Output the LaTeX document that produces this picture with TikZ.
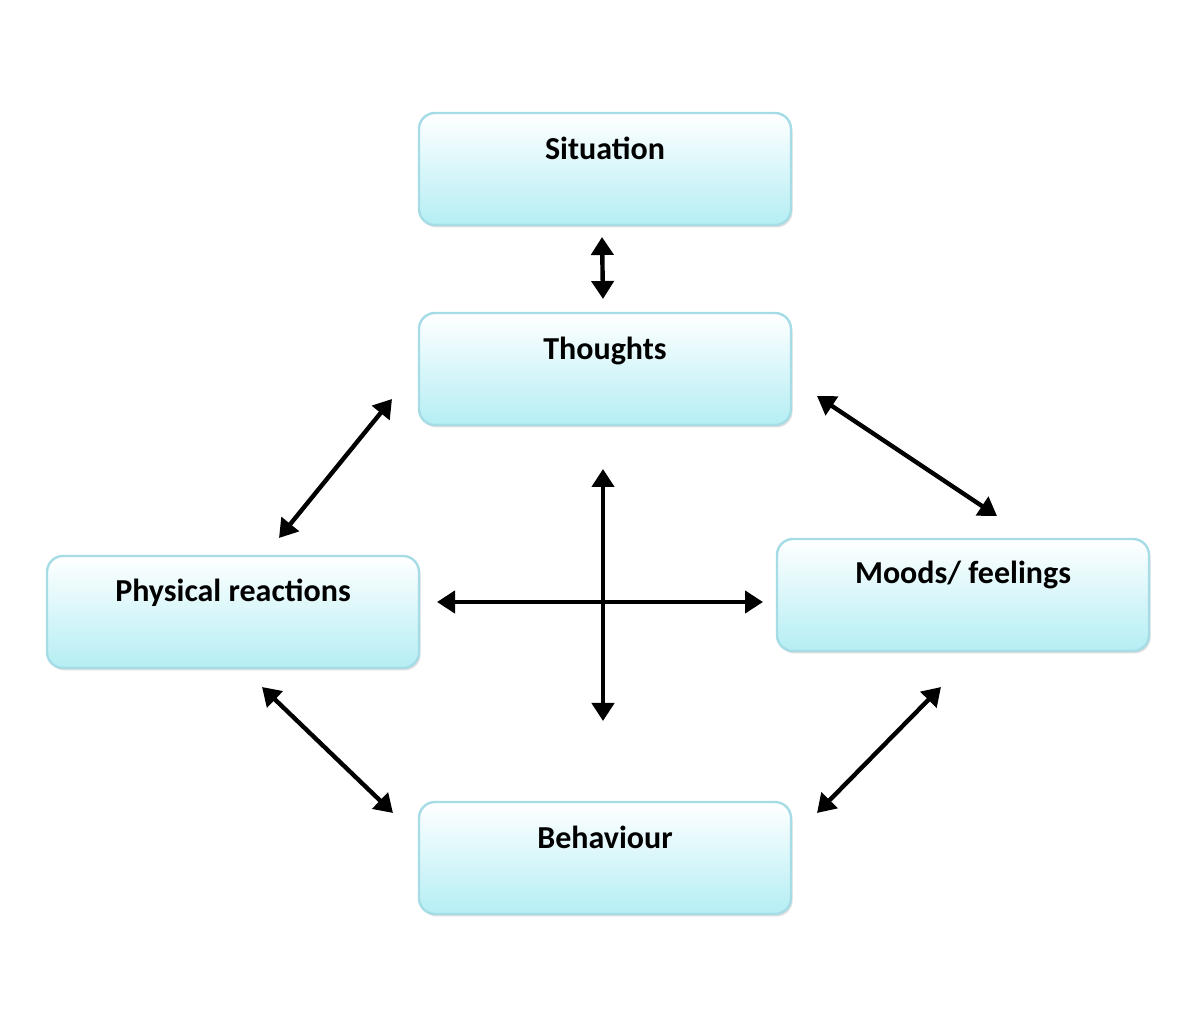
\documentclass[tikz,border=0pt]{standalone}
\usepackage{fontspec}
\setmainfont{Carlito}
\usetikzlibrary{arrows.meta,shadows}
\definecolor{boxtop}{HTML}{FFFFFF}
\definecolor{boxbot}{HTML}{B4EEF4}
\definecolor{boxline}{HTML}{A6DCE6}
\begin{document}
\begin{tikzpicture}[x=0.5pt,y=-0.5pt,
  box/.style={draw=boxline,line width=1.2pt,rounded corners=8pt,top color=boxtop,bottom color=boxbot,
    minimum width=186pt,minimum height=56pt,
    drop shadow={shadow xshift=0.8pt,shadow yshift=-1.2pt,fill=black!25}},
  lbl/.style={font=\bfseries\fontsize{16}{18}\selectfont,anchor=base},
  arr/.style={{Triangle[length=9pt,width=11pt]}-{Triangle[length=9pt,width=11pt]},line width=2.2pt,black}]
\useasboundingbox (0,0) rectangle (1200,1020);
\node[box] (sit) at (605,169) {};
\node[box] (tho) at (605,369) {};
\node[box] (phy) at (233,612) {};
\node[box] (moo) at (963,595) {};
\node[box] (beh) at (605,858) {};
\node[lbl] at (605,160) {Situation};
\node[lbl] at (605,360) {Thoughts};
\node[lbl] at (233,602) {Physical reactions};
\node[lbl] at (963,584) {Moods/ feelings};
\node[lbl] at (605,849) {Behaviour};
\coordinate (a1) at (602,237); \coordinate (a2) at (603,299);
\coordinate (b1) at (392,399); \coordinate (b2) at (279,538);
\coordinate (c1) at (817,396); \coordinate (c2) at (997,516);
\coordinate (d1) at (262,687); \coordinate (d2) at (393,813);
\coordinate (e1) at (941,687); \coordinate (e2) at (817,813);
\coordinate (h1) at (437,602); \coordinate (h2) at (763,602);
\coordinate (v1) at (603,469); \coordinate (v2) at (603,721);
\draw[arr] (a1) -- (a2);
\draw[arr] (b1) -- (b2);
\draw[arr] (c1) -- (c2);
\draw[arr] (d1) -- (d2);
\draw[arr] (e1) -- (e2);
\draw[arr] (h1) -- (h2);
\draw[arr] (v1) -- (v2);
\end{tikzpicture}
\end{document}
